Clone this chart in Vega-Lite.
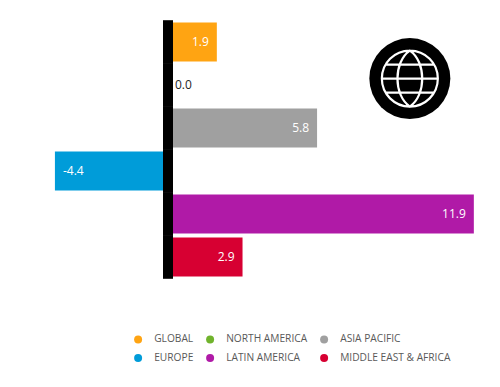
{
"$schema":"https://vega.github.io/schema/vega-lite/v6.json",
"width":500,"height":387,"padding":0,"autosize":{"type":"none"},
"background":"white",
"config":{"view":{"stroke":null},"text":{"font":"Open Sans"}},
"data":{"values":[
{"region":"GLOBAL","value":1.9,"label":"1.9"},
{"region":"NORTH AMERICA","value":0.0,"label":"0.0"},
{"region":"ASIA PACIFIC","value":5.8,"label":"5.8"},
{"region":"EUROPE","value":-4.4,"label":"-4.4"},
{"region":"LATIN AMERICA","value":11.9,"label":"11.9"},
{"region":"MIDDLE EAST & AFRICA","value":2.9,"label":"2.9"}
]},
"layer":[
{"mark":{"type":"bar","size":39},
 "encoding":{
  "x":{"field":"value","type":"quantitative","axis":null,"scale":{"domain":[-6.537,12.918],"range":[0,500],"nice":false,"zero":false}},
  "y":{"field":"region","type":"nominal","axis":null,"scale":{"domain":["GLOBAL","NORTH AMERICA","ASIA PACIFIC","EUROPE","LATIN AMERICA","MIDDLE EAST & AFRICA"],"range":[20.5,278.5],"paddingInner":0,"paddingOuter":0}},
  "color":{"field":"region","type":"nominal","scale":{"domain":["GLOBAL","NORTH AMERICA","ASIA PACIFIC","EUROPE","LATIN AMERICA","MIDDLE EAST & AFRICA"],"range":["#FFA412","#70B32C","#A0A0A0","#009CD9","#B01AA7","#D70032"]},
   "legend":{"orient":"none","legendX":133,"legendY":334,"columns":3,"title":null,"values":["GLOBAL","EUROPE","NORTH AMERICA","LATIN AMERICA","ASIA PACIFIC","MIDDLE EAST & AFRICA"],"symbolType":"circle","symbolSize":64,"symbolOpacity":1,"labelFont":"Open Sans","labelFontSize":10.2,"labelColor":"#595959","labelOffset":11,"columnPadding":11,"rowPadding":8,"padding":0}}
 }},
{"mark":{"type":"bar","size":43.6,"color":"#000000"},
 "encoding":{
  "x":{"datum":-0.195},"x2":{"datum":0.195},
  "y":{"field":"region","type":"nominal"}
 }},
{"transform":[{"filter":"datum.value>0"}],
 "mark":{"type":"text","align":"right","baseline":"middle","dx":-8,"color":"#ffffff","fontSize":12},
 "encoding":{"x":{"field":"value","type":"quantitative"},"y":{"field":"region","type":"nominal"},"text":{"field":"label","type":"nominal"}}},
{"transform":[{"filter":"datum.value==0"}],
 "mark":{"type":"text","align":"left","baseline":"middle","dx":7,"color":"#262626","fontSize":12},
 "encoding":{"x":{"field":"value","type":"quantitative"},"y":{"field":"region","type":"nominal"},"text":{"field":"label","type":"nominal"}}},
{"transform":[{"filter":"datum.value<0"}],
 "mark":{"type":"text","align":"left","baseline":"middle","dx":8,"color":"#ffffff","fontSize":12},
 "encoding":{"x":{"field":"value","type":"quantitative"},"y":{"field":"region","type":"nominal"},"text":{"field":"label","type":"nominal"}}},
{"data":{"values":[{"px":9.41,"row":"NORTH AMERICA"}]},
 "mark":{"type":"point","shape":"circle","filled":true,"fill":"#000000","stroke":null,"opacity":1,"size":6561},
 "encoding":{"x":{"field":"px","type":"quantitative"},"y":{"field":"row","type":"nominal","bandPosition":0.35}}},
{"data":{"values":[{"px":9.41,"row":"NORTH AMERICA"}]},
 "mark":{"type":"point","shape":"M-1 0A1 1 0 1 1 1 0A1 1 0 1 1 -1 0ZM0 -1C-0.59 -0.6 -0.59 0.6 0 1C0.59 0.6 0.59 -0.6 0 -1ZM-1 0L1 0M-0.866 -0.5L0.866 -0.5M-0.866 0.5L0.866 0.5","filled":false,"stroke":"#ffffff","strokeWidth":2.2,"opacity":1,"size":3136},
 "encoding":{"x":{"field":"px","type":"quantitative"},"y":{"field":"row","type":"nominal","bandPosition":0.35}}}
]
}
